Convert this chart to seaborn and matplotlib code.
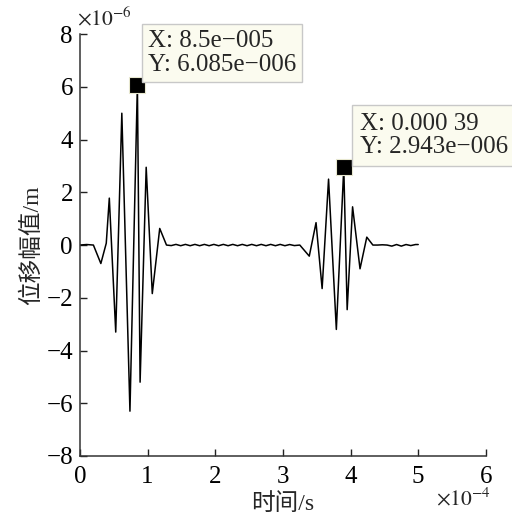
import matplotlib
matplotlib.use("Agg")
import matplotlib.pyplot as plt
import seaborn as sns
import pandas as pd

# time in units of 1e-4 s, displacement in units of 1e-6 m
time_burst1 = [0.00, 0.10, 0.20, 0.31, 0.39, 0.435, 0.53, 0.62, 0.74, 0.85, 0.89, 0.98, 1.07, 1.18, 1.28]
disp_burst1 = [0.00, 0.02, 0.00, -0.70, 0.07, 1.78, -3.30, 5.00, -6.30, 6.085, -5.20, 2.95, -1.84, 0.63, 0.00]

time_ripple1 = [1.35, 1.42, 1.49, 1.56, 1.63, 1.70, 1.77, 1.84, 1.91, 1.98, 2.05, 2.12, 2.19, 2.26,
                2.33, 2.40, 2.47, 2.54, 2.61, 2.68, 2.75, 2.82, 2.89, 2.96, 3.03, 3.10, 3.17, 3.25]
disp_ripple1 = [-0.02, 0.025, -0.025, 0.025, -0.025, 0.025, -0.025, 0.025, -0.025, 0.025, -0.025, 0.025, -0.025, 0.025,
                -0.025, 0.025, -0.025, 0.025, -0.025, 0.025, -0.025, 0.025, -0.025, 0.025, -0.025, 0.02, -0.02, 0.00]

time_burst2 = [3.39, 3.49, 3.58, 3.675, 3.79, 3.90, 3.95, 4.03, 4.14, 4.24, 4.33]
disp_burst2 = [-0.42, 0.85, -1.65, 2.50, -3.20, 2.943, -2.45, 1.45, -0.90, 0.30, 0.00]

time_ripple2 = [4.40, 4.47, 4.54, 4.61, 4.68, 4.75, 4.82, 4.89, 4.96, 5.00]
disp_ripple2 = [0.00, 0.01, 0.00, -0.04, 0.02, -0.04, 0.02, -0.02, 0.02, 0.02]

marker_time = [0.85, 3.90]
marker_disp = [6.085, 2.943]
marker_labels = ["X: 8.5e\u2212005\nY: 6.085e\u2212006", "X: 0.000 39\nY: 2.943e\u2212006"]

x_ticks = [0, 1, 2, 3, 4, 5, 6]
y_ticks = [-8, -6, -4, -2, 0, 2, 4, 6, 8]

t_all = time_burst1 + time_ripple1 + time_burst2 + time_ripple2
u_all = disp_burst1 + disp_ripple1 + disp_burst2 + disp_ripple2
df = pd.DataFrame({"t": t_all, "u": u_all})
dm = pd.DataFrame({"t": marker_time, "u": marker_disp})

sns.set_style("ticks")
plt.rcParams["font.family"] = ["Liberation Serif", "Noto Sans CJK SC"]
plt.rcParams["mathtext.fontset"] = "stix"

fig = plt.figure(figsize=(5.12, 5.17), dpi=100)
ax = fig.add_axes([0.156, 0.118, 0.793, 0.816])

sns.lineplot(data=df, x="t", y="u", ax=ax, color="black", lw=1.1,
             estimator=None, sort=False)
sns.scatterplot(data=dm, x="t", y="u", ax=ax, marker="s", s=120,
                color="black", edgecolor="#e8e8d0", linewidth=0.8, zorder=5)

ax.set_xlim(0, 6)
ax.set_ylim(-8, 8)
ax.set_xticks(x_ticks)
ax.set_yticks(y_ticks)
ax.set_xticklabels([str(v) for v in x_ticks])
ax.set_yticklabels([("\u2212" + str(-v)) if v < 0 else str(v) for v in y_ticks])
ax.tick_params(direction="in", length=5, width=1, labelsize=18, pad=5, colors="#222222")
ax.tick_params(axis="x", pad=7)
ax.tick_params(labelcolor="black")
sns.despine(ax=ax)
for s in ("left", "bottom"):
    ax.spines[s].set_linewidth(1.1)
    ax.spines[s].set_color("#333333")

ax.set_xlabel("时间/s", fontsize=17, labelpad=4)
ax.set_ylabel("位移幅值/m", fontsize=17, labelpad=2)

fig.text(0.150, 0.951, r"$\times10^{-6}$", fontsize=15.5, ha="left", va="baseline")
fig.text(0.958, 0.022, r"$\times10^{-4}$", fontsize=15.5, ha="right", va="baseline")

box1 = dict(boxstyle="square,pad=0.22", facecolor="#fbfbef", edgecolor="#c8c8c8", linewidth=1)
box2 = dict(boxstyle="square,pad=0.3", facecolor="#fbfbef", edgecolor="#c8c8c8", linewidth=1)
fig.text(0.289, 0.942, marker_labels[0], fontsize=18, ha="left", va="top",
         linespacing=1.12, bbox=box1)
fig.text(0.703, 0.782, marker_labels[1], fontsize=18, ha="left", va="top",
         linespacing=1.1, bbox=box2)

fig.savefig("out.png", dpi=100, facecolor="white")
